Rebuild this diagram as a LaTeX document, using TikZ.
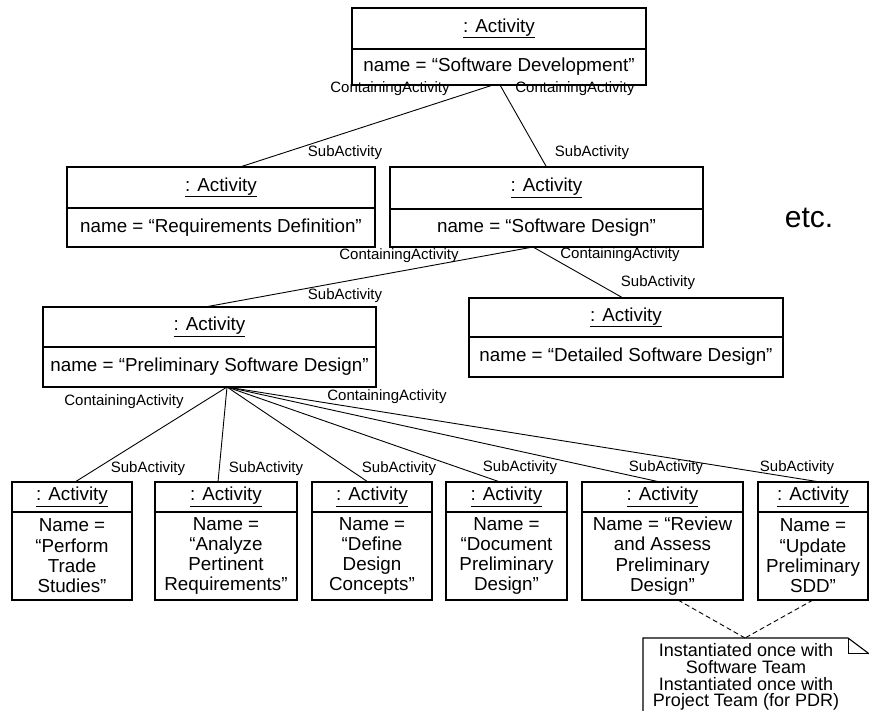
\documentclass[tikz,border=0pt]{standalone}
\usepackage{fontspec}
\setmainfont{Liberation Sans}
\usetikzlibrary{calc}

% object box: name, left x, top y, width, height, header height, header text, body text
\newcommand\objbox[8]{%
  \node[objframe, minimum width=#4pt, minimum height=#5pt, anchor=north west] (#1) at (#2,#3) {};
  \draw[objline] ([yshift=-#6pt]#1.north west) -- ([yshift=-#6pt]#1.north east);
  \node[boxtext] (#1-head) at ([yshift={-#6/2*1pt}]#1.north) {\underline{#7}};
  \node[boxtext] (#1-body) at ([yshift={-(#6+#5)/2*1pt}]#1.north) {#8};
}

\begin{document}
\begin{tikzpicture}[x=1pt,y=-1pt,
  objframe/.style={draw, line width=1.1pt, inner sep=0pt, outer sep=0pt},
  objline/.style={line width=1.1pt},
  boxtext/.style={font=\fontsize{18.8}{20.3}\selectfont, align=center, inner sep=0pt},
  rolelabel/.style={font=\fontsize{15}{17}\selectfont, inner sep=0pt},
  link/.style={line width=0.9pt},
  notelink/.style={line width=0.9pt, dash pattern=on 5pt off 3pt},
  notetext/.style={font=\fontsize{18}{16.8}\selectfont, align=center, inner sep=0pt},
]
\useasboundingbox (0,0) rectangle (869,711);
\clip (0,0) rectangle (869,711);

% top level activity
\objbox{top}{352}{8}{294}{77}{41}{: Activity}{name = “Software Development”}

% second level
\objbox{req}{67}{167}{308}{80}{41}{: Activity}{name = “Requirements Definition”}
\objbox{sd}{390}{167}{313}{80}{42}{: Activity}{name = “Software Design”}
\node[font=\fontsize{30}{32}\selectfont, inner sep=0pt] (etc) at (809,218) {etc.};

% third level
\objbox{pre}{43}{307}{333}{80}{40}{: Activity}{name = “Preliminary Software Design”}
\objbox{det}{469}{298}{314}{79}{39}{: Activity}{name = “Detailed Software Design”}

% leaf activities
\objbox{b1}{12}{482}{120}{118}{30}{: Activity}{Name =\\“Perform\\Trade\\Studies”}
\objbox{b2}{155}{482}{142}{118}{30}{: Activity}{Name =\\“Analyze\\Pertinent\\Requirements”}
\objbox{b3}{312}{482}{120}{118}{30}{: Activity}{Name =\\“Define\\Design\\Concepts”}
\objbox{b4}{446}{482}{121}{118}{30}{: Activity}{Name =\\“Document\\Preliminary\\Design”}
\objbox{b5}{582}{482}{161}{118}{30}{: Activity}{Name = “Review\\and Assess\\Preliminary\\Design”}
\objbox{b6}{758}{482}{110}{118}{30}{: Activity}{Name =\\“Update\\Preliminary\\SDD”}

% containment links
\draw[link] ([xshift=-6pt]top.south) -- ([xshift=19pt]req.north);
\draw[link] ([xshift=1pt]top.south) -- (sd.north);
\draw[link] ([xshift=-13.5pt]sd.south) -- ([xshift=-4.5pt]pre.north);
\draw[link] ([xshift=-13.5pt]sd.south) -- ([xshift=-3pt]det.north);
\draw[link] ([xshift=17.5pt]pre.south) -- ([xshift=3pt]b1.north);
\draw[link] ([xshift=17.5pt]pre.south) -- ([xshift=-8pt]b2.north);
\draw[link] ([xshift=17.5pt]pre.south) -- ([xshift=-4pt]b3.north);
\draw[link] ([xshift=17.5pt]pre.south) -- ([xshift=-6.5pt]b4.north);
\draw[link] ([xshift=17.5pt]pre.south) -- ([xshift=-2.5pt]b5.north);
\draw[link] ([xshift=17.5pt]pre.south) -- ([xshift=7pt]b6.north);

% role names
\node[rolelabel] (c1) at (390,89) {ContainingActivity};
\node[rolelabel] (c2) at (575,89) {ContainingActivity};
\node[rolelabel] (s1) at (345,153) {SubActivity};
\node[rolelabel] (s2) at (592,153) {SubActivity};
\node[rolelabel] (c3) at (399,256) {ContainingActivity};
\node[rolelabel] (c4) at (620,255) {ContainingActivity};
\node[rolelabel] (s3) at (345,296) {SubActivity};
\node[rolelabel] (s4) at (658,283) {SubActivity};
\node[rolelabel] (c5) at (124,402) {ContainingActivity};
\node[rolelabel] (c6) at (387,397) {ContainingActivity};
\node[rolelabel] (s5) at (148,469) {SubActivity};
\node[rolelabel] (s6) at (266,469) {SubActivity};
\node[rolelabel] (s7) at (399,469) {SubActivity};
\node[rolelabel] (s8) at (520,468) {SubActivity};
\node[rolelabel] (s9) at (666,468) {SubActivity};
\node[rolelabel] (s10) at (797,468) {SubActivity};

% note with folded corner
\draw[objline] (643,720) -- (643,638) -- (848,638) -- (872,656) -- (872,720);
\draw[line width=0.8pt] (848,638) -- (848,653) -- (872,653);
\coordinate (notetop) at (745,638);
\node[notetext] (note) at (746,677) {Instantiated once with\\Software Team\\Instantiated once with\\Project Team (for PDR)};
\draw[notelink] ([xshift=15.5pt]b5.south) -- (notetop);
\draw[notelink] (b6.south) -- (notetop);
\end{tikzpicture}
\end{document}
